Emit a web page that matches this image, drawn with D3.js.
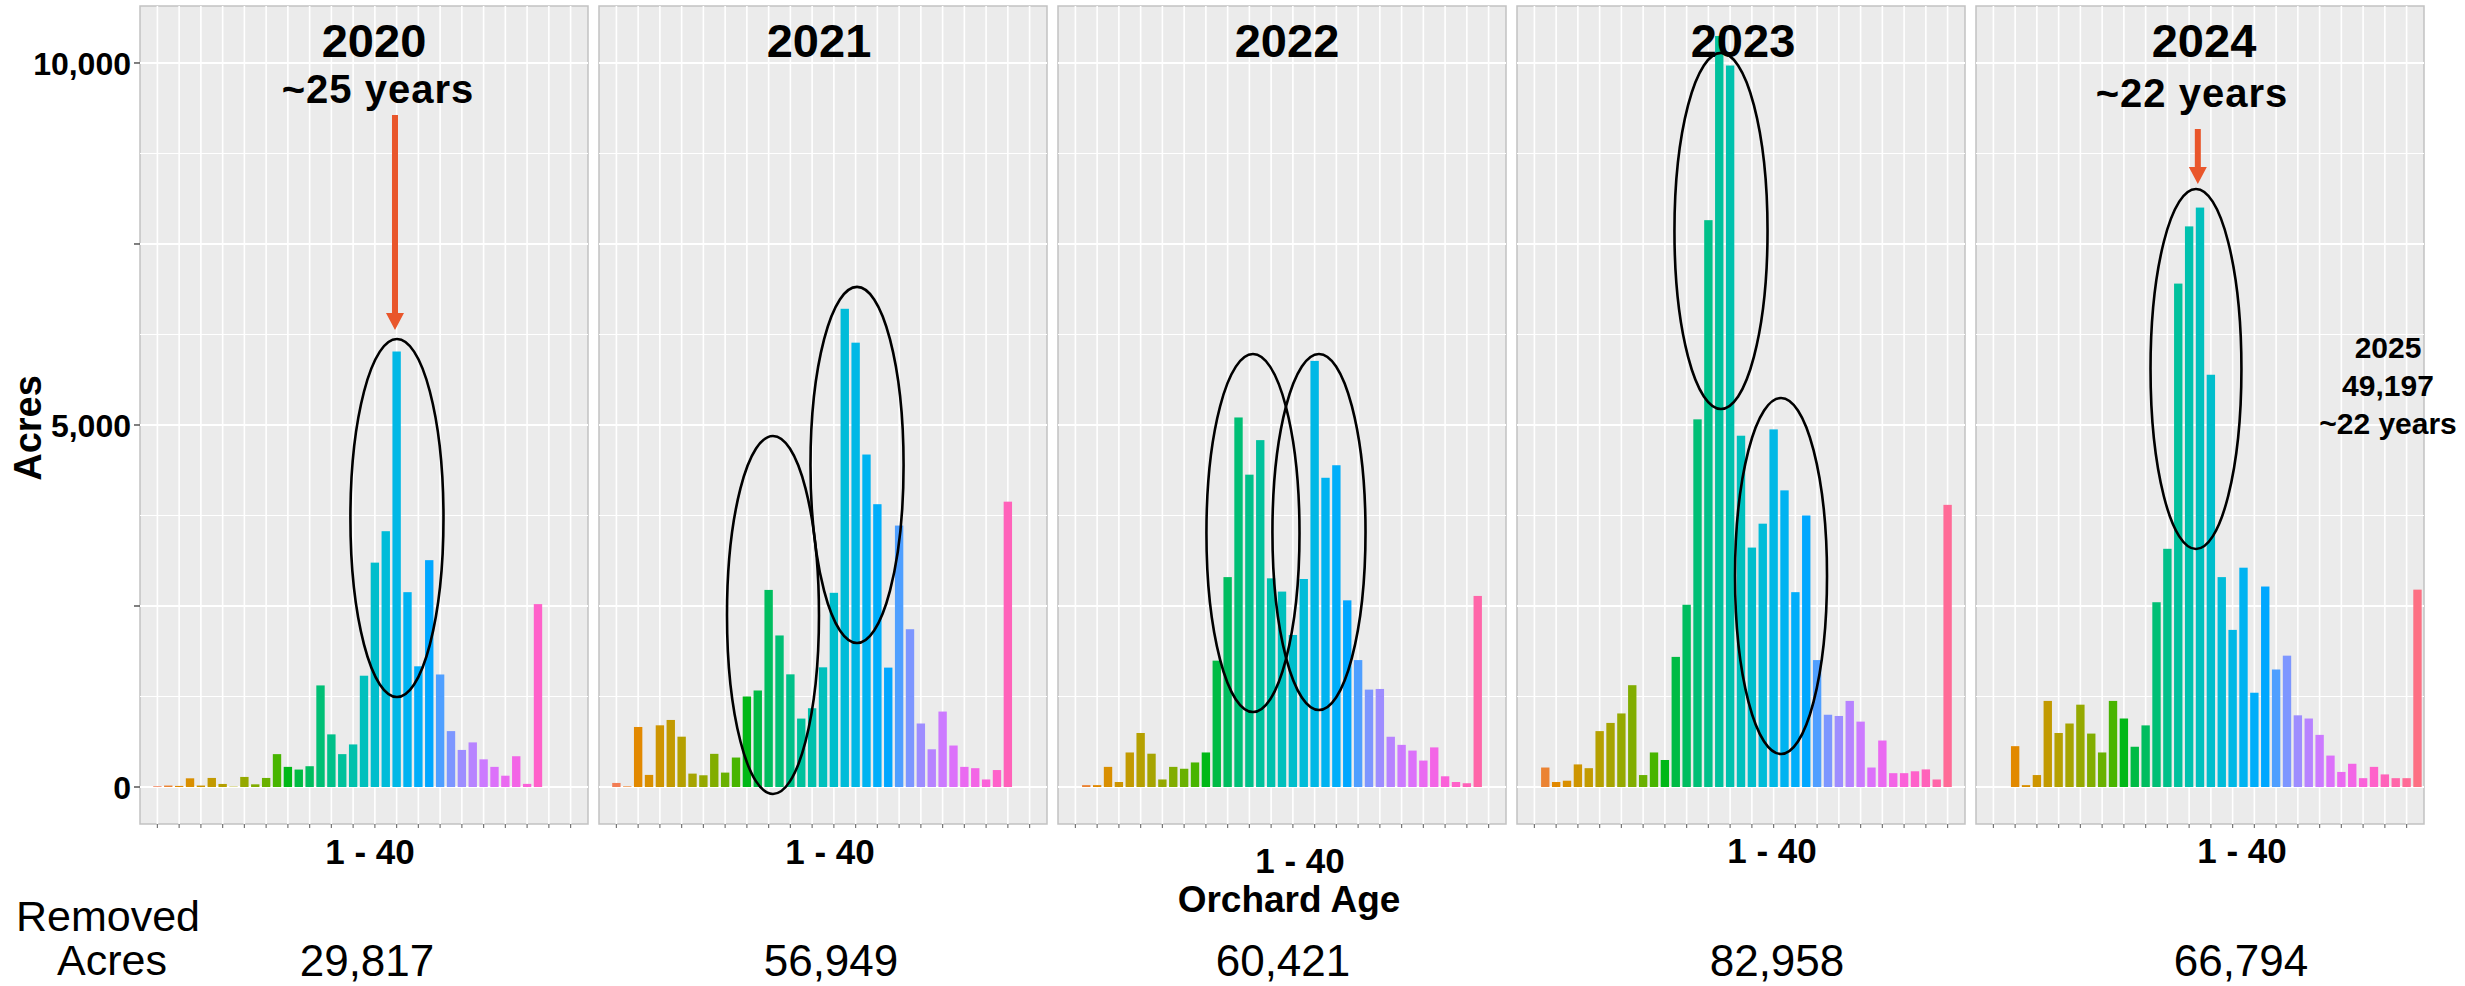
<!DOCTYPE html>
<html>
<head>
<meta charset="utf-8">
<script src="https://cdn.jsdelivr.net/npm/d3@7"></script>
<style>
  body { margin: 0; background: #fff; }
  text { font-family: "Liberation Sans", Arial, sans-serif; }
</style>
</head>
<body>
<div id="vis"></div>
<script>
// frame
const FRAME_WIDTH = 2465;
const FRAME_HEIGHT = 986;
const PANEL = {left: 140, top: 6, width: 448, height: 818, step: 459};

// data: acres by orchard age position (1..41), null = no bar
const years = ["2020", "2021", "2022", "2023", "2024"];
const removedAcres = [29817, 56949, 60421, 82958, 66794];

const acres2020 = [null, 10, 20, 15, 120, 20, 125, 42, 5, 139, 37, 125, 454, 278, 241, 287, 1403, 727, 454, 588,
  1537, 3099, 3533, 6015, 2691, 1667, 3133, 1554, 772, 512, 616, 382, 278, 156, 425, 43, 2526, null, null, null, null];
const acres2021 = [null, 56, 9, 829, 167, 852, 926, 695, 185, 162, 458, 199, 407, 1250, 1333, 2722, 2093, 1556, 945, 1088,
  1653, 2682, 6605, 6137, 4592, 3906, 1649, 3611, 2179, 877, 521, 1042, 573, 278, 260, 104, 234, 3941, null, null, null];
const acres2022 = [null, null, 26, 26, 278, 69, 477, 746, 460, 104, 278, 252, 339, 477, 1745, 2899, 5104, 4314, 4791, 2882,
  2699, 2100, 2873, 5885, 4271, 4444, 2578, 1753, 1345, 1354, 694, 582, 503, 365, 547, 148, 69, 52, 2639, null, null];
const acres2023 = [null, null, 269, 69, 87, 312, 260, 772, 885, 1016, 1406, 165, 477, 373, 1797, 2517, 5078, 7829, 10373, 9965,
  4852, 3307, 3637, 4939, 4097, 2691, 3750, 1753, 998, 981, 1189, 903, 269, 642, 191, 191, 217, 243, 104, 3897, null];
const acres2024 = [null, null, null, 564, 26, 165, 1189, 746, 877, 1137, 738, 477, 1189, 946, 556, 851, 2552, 3290, 6953, 7743,
  8003, 5694, 2899, 2170, 3029, 1302, 2769, 1623, 1814, 990, 946, 720, 434, 208, 321, 122, 278, 174, 122, 122, 2726];
const series = [acres2020, acres2021, acres2022, acres2023, acres2024];

const yMajor = [0, 2500, 5000, 7500, 10000];
const yMinor = [1250, 3750, 6250, 8750];
const yLabels = [0, 5000, 10000];

// annotations (age position, acres)
const ellipses = [
  {panel: 0, cx: 24.03, cy: 3715, rx: 4.28, ry: 2472},
  {panel: 1, cx: 16.40, cy: 2376, rx: 4.23, ry: 2472},
  {panel: 1, cx: 24.13, cy: 4448, rx: 4.28, ry: 2459},
  {panel: 2, cx: 18.33, cy: 3508, rx: 4.28, ry: 2472},
  {panel: 2, cx: 24.40, cy: 3522, rx: 4.28, ry: 2459},
  {panel: 3, cx: 19.16, cy: 7680, rx: 4.28, ry: 2459},
  {panel: 3, cx: 24.68, cy: 2914, rx: 4.23, ry: 2459},
  {panel: 4, cx: 20.63, cy: 5773, rx: 4.18, ry: 2486}
];
const arrows = [
  {panel: 0, age: 23.85, from: 9282, to: 6312},
  {panel: 4, age: 20.8, from: 9088, to: 8329}
];

// text layout offsets relative to each panel
const titleDx = [234, 220, 229, 226, 228];
const tickLabelDx = [230, 231, 242, 255, 266];
const tickLabelY = [864, 864, 873, 863, 863];
const removedDx = [227, 232, 225, 260, 265];

const N_AGES = 41;
const ages = d3.range(1, N_AGES + 1);

// ggplot-like hue palette (polarLUV)
function hclHex(h, c, l) {
  const hr = h * Math.PI / 180;
  const U = c * Math.cos(hr), V = c * Math.sin(hr);
  const Xn = 95.047, Yn = 100, Zn = 108.883;
  const t = Xn + 15 * Yn + 3 * Zn;
  const un = 4 * Xn / t, vn = 9 * Yn / t;
  const Y = l > 7.999592 ? Yn * Math.pow((l + 16) / 116, 3) : Yn * l / 903.3;
  const u = U / (13 * l) + un, v = V / (13 * l) + vn;
  const X = 9 * Y * u / (4 * v);
  const Z = -X / 3 - 5 * Y + 3 * Y / v;
  const x = X / 100, y = Y / 100, z = Z / 100;
  const lin = [
    3.240479 * x - 1.537150 * y - 0.498535 * z,
    -0.969256 * x + 1.875992 * y + 0.041556 * z,
    0.055648 * x - 0.204043 * y + 1.057311 * z
  ];
  const rgb = lin.map(c => {
    const g = c <= 0.0031308 ? 12.92 * c : 1.055 * Math.pow(c, 1 / 2.4) - 0.055;
    return Math.round(Math.max(0, Math.min(1, g)) * 255);
  });
  return d3.rgb(rgb[0], rgb[1], rgb[2]).formatHex();
}
const COLOR = d3.scaleOrdinal()
  .domain(ages)
  .range(ages.map(a => hclHex(15 + (a - 1) * 360 / N_AGES, 100, 65)));

const X_SCALE = d3.scaleLinear().domain([0.4, 41.6]).range([0, PANEL.width]);
const Y_SCALE = d3.scaleLinear().domain([-511, 10787]).range([PANEL.height, 0]);
const BAR_W = (X_SCALE(2) - X_SCALE(1)) * 0.77;

const FRAME = d3.select("#vis").append("svg")
  .attr("width", FRAME_WIDTH)
  .attr("height", FRAME_HEIGHT);

years.forEach((yr, i) => {
  const left = PANEL.left + i * PANEL.step;
  const g = FRAME.append("g").attr("transform", `translate(${left},${PANEL.top})`);

  g.append("rect")
    .attr("width", PANEL.width).attr("height", PANEL.height)
    .attr("fill", "#EBEBEB").attr("stroke", "#C2C2C2").attr("stroke-width", 1.5);

  g.selectAll(".minor").data(yMinor).enter().append("line")
    .attr("x1", 0).attr("x2", PANEL.width)
    .attr("y1", d => Y_SCALE(d)).attr("y2", d => Y_SCALE(d))
    .attr("stroke", "#fff").attr("stroke-width", 1.2);

  g.selectAll(".major").data(yMajor).enter().append("line")
    .attr("x1", 0).attr("x2", PANEL.width)
    .attr("y1", d => Y_SCALE(d)).attr("y2", d => Y_SCALE(d))
    .attr("stroke", "#fff").attr("stroke-width", 2.2);

  const xTicks = ages.filter(a => a % 2 === 0 && a <= 40);
  g.selectAll(".vgrid").data(xTicks).enter().append("line")
    .attr("x1", d => X_SCALE(d)).attr("x2", d => X_SCALE(d))
    .attr("y1", 0).attr("y2", PANEL.height)
    .attr("stroke", "#fff").attr("stroke-width", 1.6);

  // bottom ticks
  g.selectAll(".xtick").data(xTicks).enter().append("line")
    .attr("x1", d => X_SCALE(d)).attr("x2", d => X_SCALE(d))
    .attr("y1", PANEL.height).attr("y2", PANEL.height + 4)
    .attr("stroke", "#777").attr("stroke-width", 1.2);

  const bars = ages.map((a, k) => ({age: a, v: series[i][k]})).filter(d => d.v !== null);
  g.selectAll(".bar").data(bars).enter().append("rect")
    .attr("x", d => X_SCALE(d.age) - BAR_W / 2)
    .attr("width", BAR_W)
    .attr("y", d => Y_SCALE(d.v))
    .attr("height", d => Y_SCALE(0) - Y_SCALE(d.v))
    .attr("fill", d => COLOR(d.age));

  // ellipses
  g.selectAll(".ell").data(ellipses.filter(e => e.panel === i)).enter().append("ellipse")
    .attr("cx", d => X_SCALE(d.cx))
    .attr("cy", d => Y_SCALE(d.cy))
    .attr("rx", d => X_SCALE(d.cx + d.rx) - X_SCALE(d.cx))
    .attr("ry", d => Y_SCALE(d.cy - d.ry) - Y_SCALE(d.cy))
    .attr("fill", "none").attr("stroke", "#000").attr("stroke-width", 2.6);

  // arrows
  arrows.filter(a => a.panel === i).forEach(a => {
    const ax = X_SCALE(a.age), y0 = Y_SCALE(a.from), y1 = Y_SCALE(a.to);
    g.append("path")
      .attr("d", `M${ax - 3},${y0} L${ax + 3},${y0} L${ax + 3},${y1 - 17} L${ax + 9},${y1 - 17}
                  L${ax},${y1} L${ax - 9},${y1 - 17} L${ax - 3},${y1 - 17} Z`)
      .attr("fill", "#E9562B");
  });

  // year title
  FRAME.append("text")
    .attr("x", left + titleDx[i]).attr("y", 57)
    .attr("text-anchor", "middle")
    .attr("font-size", 47).attr("font-weight", "bold")
    .text(yr);

  // x label
  FRAME.append("text")
    .attr("x", left + tickLabelDx[i]).attr("y", tickLabelY[i])
    .attr("text-anchor", "middle")
    .attr("font-size", 35).attr("font-weight", "bold")
    .text("1 - 40");

  // removed acres
  FRAME.append("text")
    .attr("x", left + removedDx[i]).attr("y", 976)
    .attr("text-anchor", "middle")
    .attr("font-size", 44)
    .text(d3.format(",")(removedAcres[i]));
});

// y axis (left panel only)
const yAxisG = FRAME.append("g").attr("transform", `translate(${PANEL.left},${PANEL.top})`);
yAxisG.selectAll(".ytick").data(yMajor).enter().append("line")
  .attr("x1", -6).attr("x2", 0)
  .attr("y1", d => Y_SCALE(d)).attr("y2", d => Y_SCALE(d))
  .attr("stroke", "#555").attr("stroke-width", 1.5);
yAxisG.selectAll(".ylab").data(yLabels).enter().append("text")
  .attr("x", -9).attr("y", d => Y_SCALE(d))
  .attr("dy", "0.36em")
  .attr("text-anchor", "end")
  .attr("font-size", 32).attr("font-weight", "bold")
  .text(d => d3.format(",")(d));

FRAME.append("text")
  .attr("transform", "translate(28,428) rotate(-90)")
  .attr("text-anchor", "middle").attr("dy", "0.35em")
  .attr("font-size", 38).attr("font-weight", "bold")
  .text("Acres");

// subtitles
FRAME.append("text")
  .attr("x", 378).attr("y", 103).attr("text-anchor", "middle")
  .attr("font-size", 40).attr("font-weight", "bold").attr("letter-spacing", 1)
  .text("~25 years");
FRAME.append("text")
  .attr("x", 2192).attr("y", 107).attr("text-anchor", "middle")
  .attr("font-size", 40).attr("font-weight", "bold").attr("letter-spacing", 1)
  .text("~22 years");

// 2025 note
["2025", "49,197", "~22 years"].forEach((t, k) => {
  FRAME.append("text")
    .attr("x", 2388).attr("y", 358 + k * 38).attr("text-anchor", "middle")
    .attr("font-size", 30).attr("font-weight", "bold")
    .text(t);
});

// x axis title
FRAME.append("text")
  .attr("x", 1289).attr("y", 912).attr("text-anchor", "middle")
  .attr("font-size", 37).attr("font-weight", "bold")
  .text("Orchard Age");

FRAME.append("text")
  .attr("x", 108).attr("y", 931).attr("text-anchor", "middle")
  .attr("font-size", 43).text("Removed");
FRAME.append("text")
  .attr("x", 112).attr("y", 975).attr("text-anchor", "middle")
  .attr("font-size", 43).text("Acres");
</script>
</body>
</html>
